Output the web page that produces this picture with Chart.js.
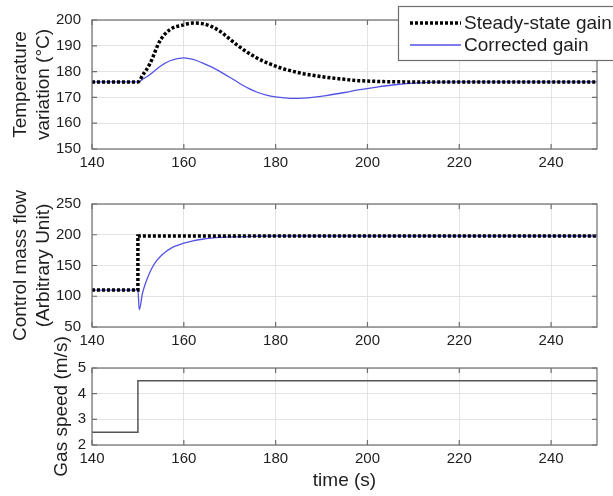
<!DOCTYPE html>
<html>
<head>
<meta charset="utf-8">
<script src="https://cdn.jsdelivr.net/npm/chart.js@4"></script>
<style>
  html, body { margin: 0; padding: 0; background: #fff; }
  #wrap { position: relative; width: 613px; height: 496px; overflow: hidden; }
  #wrap canvas { position: absolute; left: 0; top: 0; }
</style>
</head>
<body>
<div id="wrap">
  <canvas id="tempChart" width="613" height="496"></canvas>
  <canvas id="flowChart" width="613" height="496"></canvas>
  <canvas id="gasChart" width="613" height="496"></canvas>
</div>
<script>
// Values
const timeTicks = [140, 160, 180, 200, 220, 240];

// Temperature variation (°C)
const tempTime      = [140, 150, 151, 152.6, 154.8, 157, 160, 162, 164, 166, 168, 170, 172, 174, 176, 178, 180, 182, 184, 186, 188, 191, 195, 198, 202, 206, 210, 215, 220, 250];
const tempSteady    = [176, 176, 178.5, 183, 191.9, 196.3, 198.1, 198.8, 198.6, 197.5, 195.5, 192.6, 189.8, 187.3, 185.2, 183.5, 182.1, 180.9, 180, 179.2, 178.6, 177.8, 177, 176.5, 176.2, 176.05, 176, 176, 176, 176];
const tempCorrected = [176, 176, 177, 178.8, 182, 184.2, 185.3, 184.7, 183.4, 181.8, 179.9, 177.8, 175.6, 173.6, 172, 170.9, 170.2, 169.8, 169.6, 169.7, 170, 170.7, 171.9, 172.9, 174, 174.9, 175.5, 175.9, 176, 176];
const tempTicks = [150, 160, 170, 180, 190, 200];

// Control mass flow (arbitrary unit)
const flowStepTime  = [140, 150, 150, 250];
const flowSteady    = [110, 110, 198, 198];
const flowTime      = [140, 150, 150.3, 151, 152, 153, 154, 155, 156, 157, 158, 160, 162, 164, 166, 168, 170, 175, 180, 250];
const flowCorrected = [110, 110, 78, 105, 128, 145, 157, 165.5, 172, 177, 181, 186.5, 190.2, 192.7, 194.4, 195.6, 196.4, 197.5, 198, 198];
const flowTicks = [50, 100, 150, 200, 250];

// Gas speed (m/s)
const gasTime  = [140, 150, 150, 250];
const gasSpeed = [2.5, 2.5, 4.5, 4.5];
const gasTicks = [2, 3, 4, 5];

const FONT = "'Liberation Sans', Arial, sans-serif";
const GRID = '#e3e3e3';
const FRAME = '#6e6e6e';
const TEXT = '#1e1e1e';
const BLUE = '#5252e6';

const pts = (xs, ys) => xs.map((x, i) => ({ x: x, y: ys[i] }));

// box around the plot with small inward ticks, like the original
const framePlugin = {
  id: 'frame',
  afterDatasetsDraw(chart) {
    const { ctx, chartArea: a, scales } = chart;
    ctx.save();
    ctx.strokeStyle = FRAME;
    ctx.lineWidth = 1.2;
    ctx.strokeRect(a.left, a.top, a.right - a.left, a.bottom - a.top);
    ctx.beginPath();
    scales.x.ticks.forEach(t => {
      const px = scales.x.getPixelForValue(t.value);
      ctx.moveTo(px, a.bottom); ctx.lineTo(px, a.bottom - 5);
      ctx.moveTo(px, a.top); ctx.lineTo(px, a.top + 5);
    });
    scales.y.ticks.forEach(t => {
      const py = scales.y.getPixelForValue(t.value);
      ctx.moveTo(a.left, py); ctx.lineTo(a.left + 5, py);
      ctx.moveTo(a.right, py); ctx.lineTo(a.right - 5, py);
    });
    ctx.stroke();
    ctx.restore();
  }
};

const legendBox = {
  id: 'legendBox',
  afterDraw(chart) {
    const ctx = chart.ctx;
    ctx.save();
    ctx.fillStyle = '#fff';
    ctx.strokeStyle = FRAME;
    ctx.lineWidth = 1.2;
    ctx.fillRect(398.5, 6.5, 240, 54);
    ctx.strokeRect(398.5, 6.5, 240, 54);
    chart.data.datasets.forEach((ds, i) => {
      const y = 23 + i * 22;
      ctx.beginPath();
      ctx.setLineDash(ds.borderDash || []);
      ctx.lineWidth = ds.borderWidth;
      ctx.strokeStyle = ds.borderColor;
      ctx.moveTo(410, y);
      ctx.lineTo(461, y);
      ctx.stroke();
      ctx.setLineDash([]);
      ctx.fillStyle = TEXT;
      ctx.font = '19px ' + FONT;
      ctx.textBaseline = 'middle';
      ctx.fillText(ds.label, 464, y + 1);
    });
    ctx.restore();
  }
};

function makeChart(id, o) {
  return new Chart(document.getElementById(id), {
    type: 'line',
    data: { datasets: o.datasets },
    options: {
      responsive: false,
      animation: false,
      devicePixelRatio: 1,
      layout: { padding: { left: 0, right: 16, top: o.top, bottom: o.bottom } },
      elements: { point: { radius: 0 } },
      plugins: { legend: { display: false }, tooltip: { enabled: false } },
      scales: {
        x: {
          type: 'linear', min: 140, max: 250,
          afterBuildTicks: s => { s.ticks = timeTicks.map(v => ({ value: v })); },
          afterFit: s => { s.height = o.xHeight; },
          grid: { color: GRID, drawTicks: false },
          border: { display: false },
          ticks: { padding: 5, autoSkip: false, maxRotation: 0, color: TEXT, font: { family: FONT, size: 15 } },
          title: o.xTitle ? { display: true, text: o.xTitle, color: TEXT, font: { family: FONT, size: 19 }, padding: { top: 0, bottom: 3.6 } } : { display: false }
        },
        y: {
          type: 'linear', min: o.yTicks[0], max: o.yTicks[o.yTicks.length - 1],
          afterBuildTicks: s => { s.ticks = o.yTicks.map(v => ({ value: v })); },
          afterFit: s => { s.width = 92; },
          grid: { color: GRID, drawTicks: false },
          border: { display: false },
          ticks: { padding: o.yPad, autoSkip: false, color: TEXT, font: { family: FONT, size: 15 } },
          title: { display: true, text: o.yTitle, color: TEXT, font: { family: FONT, size: 19 }, padding: { top: o.titlePad, bottom: 0 } }
        }
      }
    },
    plugins: o.plugins
  });
}

document.addEventListener('DOMContentLoaded', function () {
  // 1. Temperature
  makeChart('tempChart', {
    top: 15, bottom: 496 - 149 - 30, xHeight: 30, yPad: 11, titlePad: 9.6,
    yTicks: tempTicks,
    yTitle: ['Temperature', 'variation (°C)'],
    datasets: [
      { label: 'Steady-state gain', data: pts(tempTime, tempSteady), borderColor: '#000', borderWidth: 3.5, borderDash: [3, 2], cubicInterpolationMode: 'monotone' },
      { label: 'Corrected gain', data: pts(tempTime, tempCorrected), borderColor: BLUE, borderWidth: 1.3, cubicInterpolationMode: 'monotone' }
    ],
    plugins: [framePlugin, legendBox]
  });

  // 2. Control mass flow
  makeChart('flowChart', {
    top: 204, bottom: 496 - 327 - 30, xHeight: 30, yPad: 11, titlePad: 9.6,
    yTicks: flowTicks,
    yTitle: ['Control mass flow', '(Arbitrary Unit)'],
    datasets: [
      { label: 'Steady-state gain', data: pts(flowStepTime, flowSteady), borderColor: '#000', borderWidth: 3.5, borderDash: [3, 2] },
      { label: 'Corrected gain', data: pts(flowTime, flowCorrected), borderColor: BLUE, borderWidth: 1.3, cubicInterpolationMode: 'monotone' }
    ],
    plugins: [framePlugin]
  });

  // 3. Gas speed
  makeChart('gasChart', {
    top: 368, bottom: 0, xHeight: 496 - 445, yPad: 6, titlePad: 50.6,
    yTicks: gasTicks,
    yTitle: 'Gas speed (m/s)',
    xTitle: 'time (s)',
    datasets: [
      { label: 'Gas speed', data: pts(gasTime, gasSpeed), borderColor: '#555', borderWidth: 1.5 }
    ],
    plugins: [framePlugin]
  });
});
</script>
</body>
</html>
